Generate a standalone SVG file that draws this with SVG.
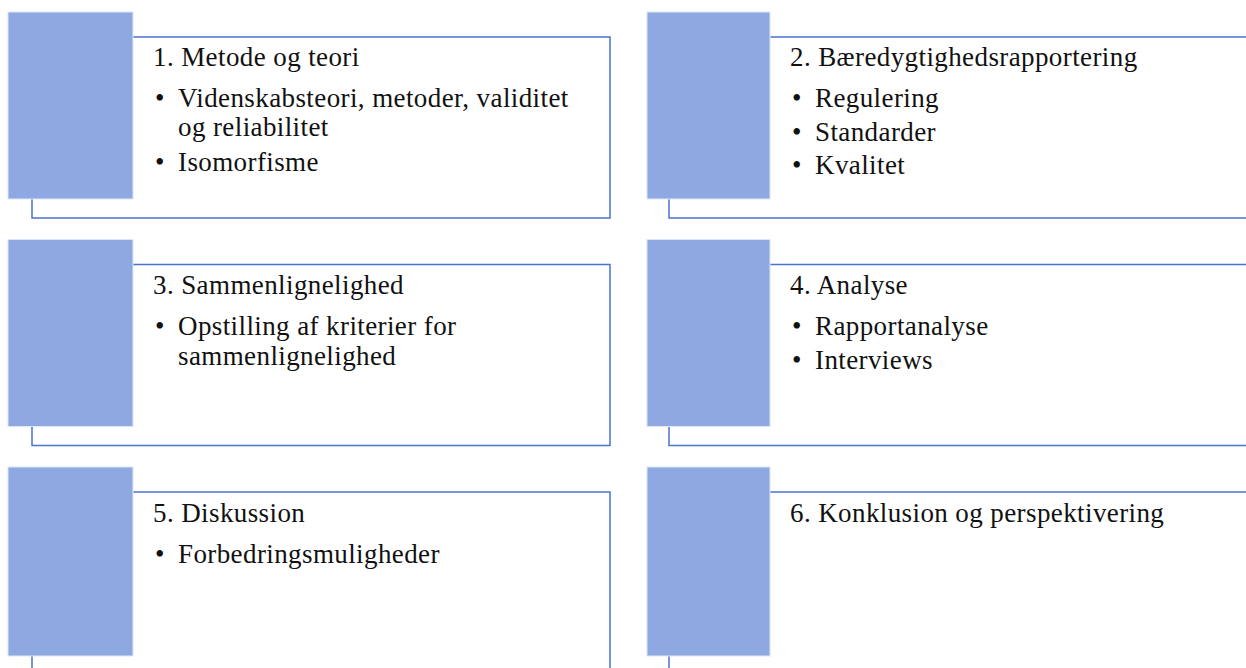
<svg xmlns="http://www.w3.org/2000/svg" width="1246" height="668" viewBox="0 0 1246 668">
<style>
.frame{fill:none;stroke:#4a72d0;stroke-width:1.5}
.tab{fill:#8ea9e1;stroke:#dfe6f7;stroke-width:1}
text{font-family:"Liberation Serif","Times New Roman",serif;font-size:27px;letter-spacing:0.4px;fill:#111}
</style>
<rect width="1246" height="668" fill="#fff"/>
<g id="node1">
<rect class="frame" x="32" y="37" width="578" height="181"/>
<rect class="tab" x="8" y="12" width="125" height="187"/>
<text x="153" y="66">1. Metode og teori</text>
<text x="155" y="107">•</text><text x="178" y="107">Videnskabsteori, metoder, validitet</text>
<text x="178" y="136">og reliabilitet</text>
<text x="155" y="171">•</text><text x="178" y="171">Isomorfisme</text>
</g>
<g id="node2">
<rect class="frame" x="669" y="37" width="600" height="181"/>
<rect class="tab" x="647" y="12" width="123" height="187"/>
<text x="790" y="66">2. Bæredygtighedsrapportering</text>
<text x="792" y="107">•</text><text x="815" y="107">Regulering</text>
<text x="792" y="141">•</text><text x="815" y="141">Standarder</text>
<text x="792" y="174">•</text><text x="815" y="174">Kvalitet</text>
</g>
<g id="node3">
<rect class="frame" x="32" y="264.5" width="578" height="181"/>
<rect class="tab" x="8" y="239.5" width="125" height="187"/>
<text x="153" y="294">3. Sammenlignelighed</text>
<text x="155" y="335">•</text><text x="178" y="335">Opstilling af  kriterier for</text>
<text x="178" y="365">sammenlignelighed</text>
</g>
<g id="node4">
<rect class="frame" x="669" y="264.5" width="600" height="181"/>
<rect class="tab" x="647" y="239.5" width="123" height="187"/>
<text x="790" y="294">4. Analyse</text>
<text x="792" y="335">•</text><text x="815" y="335">Rapportanalyse</text>
<text x="792" y="369">•</text><text x="815" y="369">Interviews</text>
</g>
<g id="node5">
<rect class="frame" x="32" y="492" width="578" height="181"/>
<rect class="tab" x="8" y="467" width="125" height="189"/>
<text x="153" y="522">5. Diskussion</text>
<text x="155" y="563">•</text><text x="178" y="563">Forbedringsmuligheder</text>
</g>
<g id="node6">
<rect class="frame" x="669" y="492" width="600" height="181"/>
<rect class="tab" x="647" y="467" width="123" height="189"/>
<text x="790" y="522">6. Konklusion og perspektivering</text>
</g>
<g id="connectors"></g>
</svg>
